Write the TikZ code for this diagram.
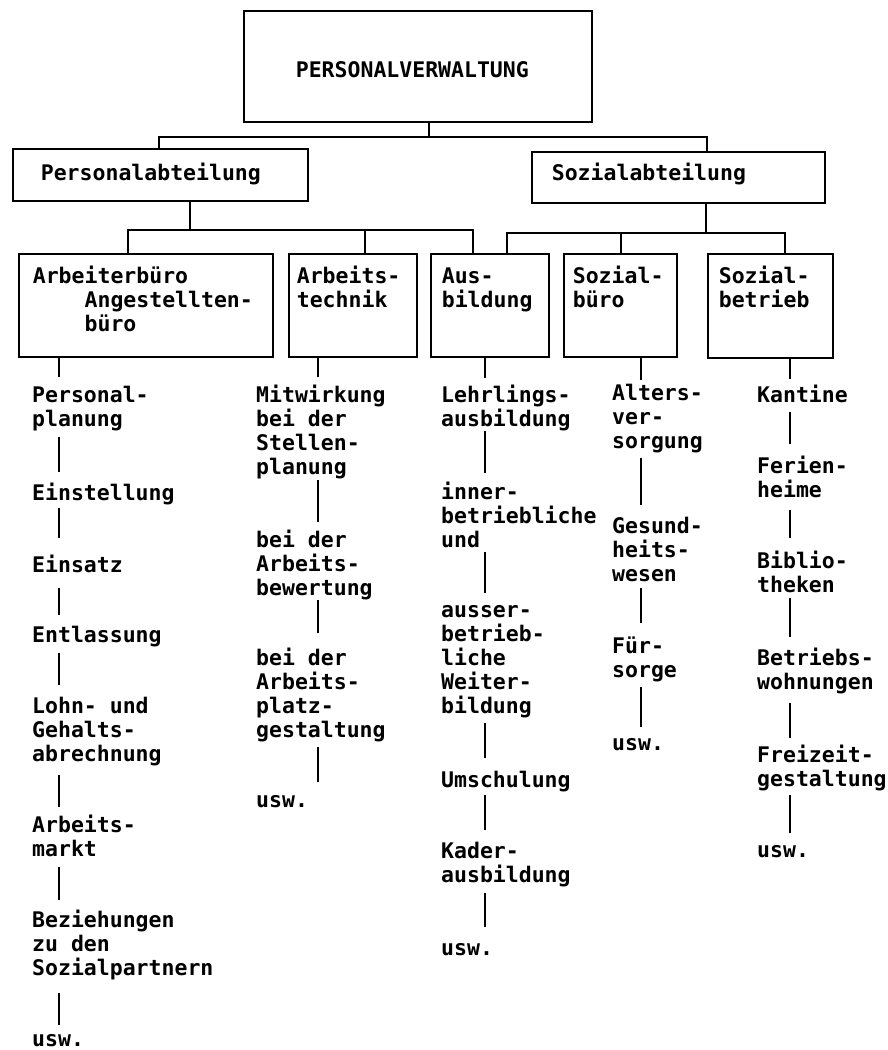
\documentclass[tikz,border=0pt]{standalone}
\usepackage{fontspec}
\newfontfamily\dotfont{DejaVu Sans Mono}
\newcommand{\wsp}{\phantom{x}}
\begin{document}
\begin{tikzpicture}[x=1pt,y=-1pt,
  every node/.style={font=\dotfont\bfseries\fontsize{21.5}{24}\selectfont},
  ln/.style={line width=1.7pt, line join=miter},
  box/.style={draw, line width=1.7pt, anchor=north west, inner ysep=0pt, align=left},
  txt/.style={anchor=base west, inner sep=0pt, align=left, text width=190pt, text height=15pt},
  L1/.style={text depth=5pt},
  L2/.style={text depth=29pt},
  L3/.style={text depth=53pt},
  L4/.style={text depth=77pt},
  L5/.style={text depth=101pt},
]
\useasboundingbox (0,0) rectangle (887,1050);

% ---------- boxes ----------
\node[box, inner xsep=52pt, text width=244pt, text height=67pt, text depth=44pt] (top) at (243,10) {PERSONALVERWALTUNG};
\node[box, inner xsep=28pt, text width=239pt, text height=32pt, text depth=20pt] (pa) at (12,148) {Personalabteilung};
\node[box, inner xsep=20pt, text width=253pt, text height=29pt, text depth=22pt] (sa) at (531,151) {Sozialabteilung};

\node[box, inner xsep=14pt, text width=226pt, text height=30pt, text depth=73pt] (ar) at (18,253) {Arbeiterbüro\\\phantom{AAAA}Angestellten-\\\phantom{AAAA}büro};
\node[box, inner xsep=8pt, text width=112pt, text height=30pt, text depth=73pt] (at) at (288,253) {Arbeits-\\technik};
\node[box, inner xsep=11pt, text width=96pt, text height=30pt, text depth=73pt] (ab) at (430,253) {Aus-\\bildung};
\node[box, inner xsep=9pt, text width=95pt, text height=30pt, text depth=73pt] (sb) at (563,253) {Sozial-\\büro};
\node[box, inner xsep=11pt, text width=103pt, text height=30pt, text depth=74pt] (bt) at (707,253) {Sozial-\\betrieb};

% ---------- tree connectors ----------
\coordinate (j0) at (429,137);
\coordinate (p0) at (159,137);
\coordinate (s0) at (707,137);
\draw[ln] (top.south -| j0) -- (j0);
\draw[ln] (pa.north -| p0) -- (p0) -- (s0) -- (sa.north -| s0);

\coordinate (j1) at (190,230);
\coordinate (d1) at (128,230);
\coordinate (d2) at (365,230);
\coordinate (d3) at (473,230);
\draw[ln] (pa.south -| j1) -- (j1);
\draw[ln] (ar.north -| d1) -- (d1) -- (d3) -- (ab.north -| d3);
\draw[ln] (d2) -- (at.north -| d2);

\coordinate (j2) at (706,233);
\coordinate (e1) at (507,233);
\coordinate (e2) at (621,233);
\coordinate (e3) at (785,233);
\draw[ln] (sa.south -| j2) -- (j2);
\draw[ln] (ab.north -| e1) -- (e1) -- (e3) -- (bt.north -| e3);
\draw[ln] (e2) -- (sb.north -| e2);

% ---------- column 1 ----------
\node[txt, L2] (c1a) at (32,402) {Personal-\\planung};
\node[txt, L1] (c1b) at (32,500) {Einstellung};
\node[txt, L1] (c1c) at (32,572) {Einsatz};
\node[txt, L1] (c1d) at (32,642) {Entlassung};
\node[txt, L3] (c1e) at (32,713) {Lohn-\wsp{}und\\Gehalts-\\abrechnung};
\node[txt, L2] (c1f) at (32,832) {Arbeits-\\markt};
\node[txt, L3] (c1g) at (32,927) {Beziehungen\\zu\wsp{}den\\Sozialpartnern};
\node[txt, text depth=2pt] (c1h) at (32,1046) {usw.};
\coordinate (X1) at (59,0);
\draw[ln, shorten >=10pt] (ar.south -| X1) -- (c1a.north -| X1);
\draw[ln, shorten <=6pt, shorten >=13pt] (c1a.south -| X1) -- (c1b.north -| X1);
\draw[ln, shorten <=3pt, shorten >=19pt] (c1b.south -| X1) -- (c1c.north -| X1);
\draw[ln, shorten <=11pt, shorten >=12pt] (c1c.south -| X1) -- (c1d.north -| X1);
\draw[ln, shorten <=6pt, shorten >=13pt] (c1d.south -| X1) -- (c1e.north -| X1);
\draw[ln, shorten <=9pt, shorten >=10pt] (c1e.south -| X1) -- (c1f.north -| X1);
\draw[ln, shorten <=6pt, shorten >=12pt] (c1f.south -| X1) -- (c1g.north -| X1);
\draw[ln, shorten <=13pt, shorten >=6pt] (c1g.south -| X1) -- (c1h.north -| X1);

% ---------- column 2 ----------
\node[txt, L4] (c2a) at (256,402) {Mitwirkung\\bei\wsp{}der\\Stellen-\\planung};
\node[txt, L3] (c2b) at (256,547) {bei\wsp{}der\\Arbeits-\\bewertung};
\node[txt, L4] (c2c) at (256,665) {bei\wsp{}der\\Arbeits-\\platz-\\gestaltung};
\node[txt, L1] (c2d) at (256,807) {usw.};
\coordinate (X2) at (318,0);
\draw[ln, shorten >=10pt] (at.south -| X2) -- (c2a.north -| X2);
\draw[ln, shorten <=1pt, shorten >=10pt] (c2a.south -| X2) -- (c2b.north -| X2);
\draw[ln, shorten >=17pt] (c2b.south -| X2) -- (c2c.north -| X2);
\draw[ln, shorten <=5pt, shorten >=10pt] (c2c.south -| X2) -- (c2d.north -| X2);

% ---------- column 3 ----------
\node[txt, L2] (c3a) at (441,402) {Lehrlings-\\ausbildung};
\node[txt, L3] (c3b) at (441,499) {inner-\\betriebliche\\und};
\node[txt, L5] (c3c) at (441,617) {ausser-\\betrieb-\\liche\\Weiter-\\bildung};
\node[txt, L1] (c3d) at (441,787) {Umschulung};
\node[txt, L2] (c3e) at (441,858) {Kader-\\ausbildung};
\node[txt, L1] (c3f) at (441,955) {usw.};
\coordinate (X3) at (485,0);
\draw[ln, shorten >=9pt] (ab.south -| X3) -- (c3a.north -| X3);
\draw[ln, shorten >=11pt] (c3a.south -| X3) -- (c3b.north -| X3);
\draw[ln, shorten >=9pt] (c3b.south -| X3) -- (c3c.north -| X3);
\draw[ln, shorten <=5pt, shorten >=14pt] (c3c.south -| X3) -- (c3d.north -| X3);
\draw[ln, shorten <=3pt, shorten >=13pt] (c3d.south -| X3) -- (c3e.north -| X3);
\draw[ln, shorten <=6pt, shorten >=13pt] (c3e.south -| X3) -- (c3f.north -| X3);

% ---------- column 4 ----------
\node[txt, L3] (c4a) at (612,400) {Alters-\\ver-\\sorgung};
\node[txt, L3] (c4b) at (612,533) {Gesund-\\heits-\\wesen};
\node[txt, L2] (c4c) at (612,653) {Für-\\sorge};
\node[txt, L1] (c4d) at (612,750) {usw.};
\coordinate (X4) at (641,0);
\draw[ln, shorten >=5pt] (sb.south -| X4) -- (c4a.north -| X4);
\draw[ln, shorten <=5pt, shorten >=13pt] (c4a.south -| X4) -- (c4b.north -| X4);
\draw[ln, shorten <=2pt, shorten >=15pt] (c4b.south -| X4) -- (c4c.north -| X4);
\draw[ln, shorten <=5pt, shorten >=8pt] (c4c.south -| X4) -- (c4d.north -| X4);

% ---------- column 5 ----------
\node[txt, L1] (c5a) at (757,402) {Kantine};
\node[txt, L2] (c5b) at (757,473) {Ferien-\\heime};
\node[txt, L2] (c5c) at (757,568) {Biblio-\\theken};
\node[txt, L2] (c5d) at (757,665) {Betriebs-\\wohnungen};
\node[txt, L2] (c5e) at (757,762) {Freizeit-\\gestaltung};
\node[txt, L1] (c5f) at (757,857) {usw.};
\coordinate (X5) at (790,0);
\draw[ln, shorten >=8pt] (bt.south -| X5) -- (c5a.north -| X5);
\draw[ln, shorten <=5pt, shorten >=14pt] (c5a.south -| X5) -- (c5b.north -| X5);
\draw[ln, shorten <=8pt, shorten >=15pt] (c5b.south -| X5) -- (c5c.north -| X5);
\draw[ln, shorten <=1pt, shorten >=13pt] (c5c.south -| X5) -- (c5d.north -| X5);
\draw[ln, shorten <=9pt, shorten >=9pt] (c5d.south -| X5) -- (c5e.north -| X5);
\draw[ln, shorten <=4pt, shorten >=9pt] (c5e.south -| X5) -- (c5f.north -| X5);
\end{tikzpicture}
\end{document}
